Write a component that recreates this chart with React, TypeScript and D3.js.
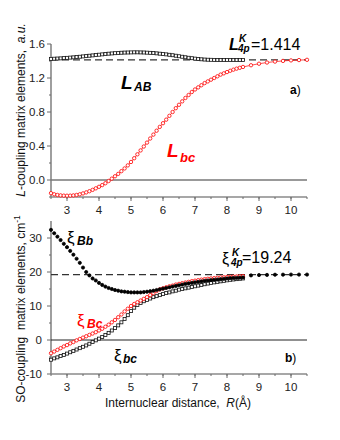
import React from "react";
import * as d3 from "d3";

// internuclear distance grid (Å) of the dense part of every curve
const rDense = [
  2.5, 2.6, 2.7, 2.8, 2.9, 3.0, 3.1, 3.2, 3.3, 3.4, 3.5, 3.6, 3.7, 3.8, 3.9, 4.0,
  4.1, 4.2, 4.3, 4.4, 4.5, 4.6, 4.7, 4.8, 4.9, 5.0, 5.1, 5.2, 5.3, 5.4, 5.5, 5.6,
  5.7, 5.8, 5.9, 6.0, 6.1, 6.2, 6.3, 6.4, 6.5, 6.6, 6.7, 6.8, 6.9, 7.0, 7.1, 7.2,
  7.3, 7.4, 7.5, 7.6, 7.7, 7.8, 7.9, 8.0, 8.1, 8.2, 8.3, 8.4, 8.5,
];
// sparse points toward the atomic limit
const rSparse = [8.75, 9.0, 9.25, 9.5, 9.75, 10.0, 10.25, 10.5];

// panel a) L-coupling, a.u.
const lAB = [
  1.425, 1.427, 1.429, 1.431, 1.434, 1.437, 1.44, 1.443, 1.447, 1.45, 1.454, 1.458,
  1.462, 1.466, 1.47, 1.474, 1.478, 1.482, 1.486, 1.489, 1.492, 1.495, 1.497, 1.499,
  1.5, 1.501, 1.502, 1.502, 1.501, 1.5, 1.498, 1.496, 1.493, 1.49, 1.486, 1.482,
  1.478, 1.473, 1.468, 1.462, 1.456, 1.45, 1.444, 1.438, 1.433, 1.428, 1.424, 1.42,
  1.417, 1.415, 1.414, 1.413, 1.412, 1.412, 1.412, 1.412, 1.412, 1.412, 1.412, 1.412,
  1.412,
];
const lBc = [
  -0.155, -0.168, -0.176, -0.181, -0.184, -0.185, -0.184, -0.181, -0.176, -0.168,
  -0.158, -0.146, -0.132, -0.116, -0.098, -0.08, -0.06, -0.038, -0.012, 0.016, 0.044,
  0.072, 0.104, 0.136, 0.172, 0.212, 0.256, 0.302, 0.348, 0.394, 0.44, 0.488, 0.534,
  0.58, 0.625, 0.668, 0.71, 0.755, 0.8, 0.845, 0.885, 0.925, 0.965, 1.0, 1.035, 1.065,
  1.09, 1.115, 1.14, 1.16, 1.18, 1.2, 1.22, 1.24, 1.255, 1.27, 1.285, 1.298, 1.31,
  1.32, 1.33,
];
const lBcSparse = [1.35, 1.368, 1.382, 1.393, 1.401, 1.407, 1.411, 1.414];
const lLimit = 1.414;

// panel b) SO-coupling, cm-1
const xiBb = [
  32.4, 31.4, 30.4, 29.4, 28.3, 27.3, 26.2, 25.1, 23.9, 22.7, 21.3, 20.0, 19.0, 18.1,
  17.5, 16.8, 16.2, 15.7, 15.3, 15.0, 14.7, 14.5, 14.3, 14.2, 14.1, 14.0, 14.0, 14.0,
  14.0, 14.1, 14.2, 14.35, 14.5, 14.7, 14.9, 15.1, 15.3, 15.5, 15.7, 15.9, 16.1, 16.3,
  16.5, 16.65, 16.8, 16.95, 17.1, 17.25, 17.4, 17.5, 17.6, 17.7, 17.8, 17.9, 18.0,
  18.1, 18.2, 18.25, 18.3, 18.35, 18.4,
];
const xiBbSparse = [19.0, 19.1, 19.15, 19.2, 19.22, 19.24, 19.24, 19.24];
const xiBc = [
  -3.9, -3.4, -2.9, -2.4, -1.9, -1.5, -1.0, -0.6, -0.1, 0.3, 0.7, 1.1, 1.5, 1.9, 2.3,
  2.8, 3.3, 3.9, 4.5, 5.2, 5.9, 6.7, 7.5, 8.4, 9.2, 10.0, 10.6, 11.1, 11.6, 12.1, 12.6,
  13.2, 13.8, 14.4, 14.9, 15.2, 15.5, 15.8, 16.0, 16.3, 16.5, 16.7, 16.9, 17.1, 17.3,
  17.45, 17.6, 17.75, 17.9, 18.0, 18.1, 18.2, 18.3, 18.4, 18.45, 18.55, 18.6, 18.65,
  18.7, 18.75, 18.8,
];
const xiBcLower = [
  -5.8, -5.4, -5.1, -4.7, -4.4, -4.0, -3.6, -3.2, -2.8, -2.4, -2.0, -1.6, -1.1, -0.6,
  -0.1, 0.4, 0.9, 1.5, 2.1, 2.8, 3.5, 4.3, 5.2, 6.2, 7.3, 8.5, 9.5, 10.3, 10.9, 11.4,
  11.8, 12.2, 12.6, 12.9, 13.2, 13.5, 13.8, 14.0, 14.3, 14.5, 14.8, 15.0, 15.2, 15.4,
  15.6, 15.8, 16.0, 16.2, 16.4, 16.6, 16.8, 16.95, 17.1, 17.25, 17.4, 17.55, 17.7,
  17.8, 17.9, 18.0, 18.1,
];
const xiLimit = 19.24;

const xTicks = [3, 4, 5, 6, 7, 8, 9, 10];
const yTicksA = [0.0, 0.4, 0.8, 1.2, 1.6];
const yTicksB = [-10, 0, 10, 20, 30];

const FONT = "Arial, 'Liberation Sans', sans-serif";
const RED = "#ff0000";
const AXIS = "#6b6b6b";

const x = d3.scaleLinear().domain([2.5, 10.5]).range([51, 307]);
const yA = d3.scaleLinear().domain([-0.2, 1.6]).range([197, 44]);
const yB = d3.scaleLinear().domain([-10, 35]).range([374, 221]);

const zip = (xs: number[], ys: number[]) => xs.map((r, i) => [r, ys[i]] as [number, number]);

function Squares({ pts, y, color }: { pts: [number, number][]; y: any; color: string }) {
  return (
    <g fill="white" stroke={color} strokeWidth={0.8}>
      {pts.map(([r, v], i) => (
        <rect key={i} x={x(r) - 1.5} y={y(v) - 1.5} width={3} height={3} />
      ))}
    </g>
  );
}

function Circles({ pts, y, color, filled }: { pts: [number, number][]; y: any; color: string; filled?: boolean }) {
  return (
    <g fill={filled ? color : "white"} stroke={color} strokeWidth={0.8}>
      {pts.map(([r, v], i) => (
        <circle key={i} cx={x(r)} cy={y(v)} r={filled ? 1.6 : 1.7} />
      ))}
    </g>
  );
}

function Frame({ y, ticks, minor, bottom, top, labelY, labelX, fmt }: any) {
  const minorX = d3.range(2.5, 10.51, 0.5);
  return (
    <g fontFamily={FONT} fontSize={11.5} fill="#222">
      {/* left axis */}
      <line x1={51} x2={51} y1={top} y2={bottom} stroke={AXIS} strokeWidth={1.3} />
      {ticks.map((t: number) => (
        <g key={"y" + t}>
          <line x1={47} x2={51} y1={y(t)} y2={y(t)} stroke={AXIS} strokeWidth={1} />
          <text x={labelX} y={y(t) + 4} textAnchor="end">{fmt(t)}</text>
        </g>
      ))}
      {minor.map((t: number) => (
        <line key={"m" + t} x1={49} x2={51} y1={y(t)} y2={y(t)} stroke={AXIS} strokeWidth={1} />
      ))}
      {/* bottom axis */}
      <line x1={51} x2={307} y1={bottom} y2={bottom} stroke="#8a8a8a" strokeWidth={1.6} />
      {minorX.map((t: number) => (
        <line key={"xm" + t} x1={x(t)} x2={x(t)} y1={bottom} y2={bottom + 2} stroke={AXIS} strokeWidth={1} />
      ))}
      {xTicks.map((t) => (
        <g key={"x" + t}>
          <line x1={x(t)} x2={x(t)} y1={bottom} y2={bottom + 4} stroke={AXIS} strokeWidth={1} />
          <text x={x(t)} y={labelY} textAnchor="middle">{t}</text>
        </g>
      ))}
    </g>
  );
}

export default function App() {
  const lineA = d3.line<[number, number]>().x((d) => x(d[0])).y((d) => yA(d[1]));
  const lineB = d3.line<[number, number]>().x((d) => x(d[0])).y((d) => yB(d[1]));

  const pAB = zip(rDense, lAB);
  const pBc = zip(rDense, lBc).concat(zip(rSparse, lBcSparse));
  const pBb = zip(rDense, xiBb);
  const pBbS = zip(rSparse, xiBbSparse);
  const pXBc = zip(rDense, xiBc);
  const pXbc = zip(rDense, xiBcLower);

  return (
    <svg width={340} height={440} style={{ display: "block", position: "absolute", left: 0, top: 0 }}>
      <rect width={340} height={440} fill="white" />

      {/* ---------- panel a ---------- */}
      <Frame y={yA} ticks={yTicksA} minor={[-0.2, 0.2, 0.6, 1.0, 1.4]} top={44} bottom={197}
        labelY={214} labelX={45} fmt={(t: number) => t.toFixed(1)} />
      <line x1={51} x2={307} y1={yA(0)} y2={yA(0)} stroke="#777" strokeWidth={1.4} />
      <line x1={51} x2={307} y1={yA(lLimit)} y2={yA(lLimit)} stroke="#333" strokeWidth={1.3} strokeDasharray="7,4" />
      <path d={lineA(pBc) || ""} fill="none" stroke={RED} strokeWidth={0.7} />
      <Circles pts={pBc} y={yA} color={RED} />
      <path d={lineA(pAB) || ""} fill="none" stroke="#111" strokeWidth={0.7} />
      <Squares pts={pAB} y={yA} color="#111" />

      <g fontFamily={FONT} fontStyle="italic" fontWeight="bold">
        <text x={121} y={89} fontSize={19} fill="#000">L</text>
        <text x={134} y={91} fontSize={12} fill="#000">AB</text>
        <text x={167} y={157} fontSize={19} fill={RED}>L</text>
        <text x={180} y={162} fontSize={13} fill={RED}>bc</text>
        <text x={229} y={50} fontSize={16} fill="#000">L</text>
        <text x={239} y={42} fontSize={10} fill="#000">K</text>
        <text x={238} y={52} fontSize={10} fill="#000">4p</text>
      </g>
      <text x={251} y={50} fontFamily={FONT} fontSize={16} fill="#000">=1.414</text>
      <text x={290} y={94} fontFamily={FONT} fontSize={12} fill="#000">
        <tspan fontWeight="bold">a</tspan>)
      </text>
      <text transform="translate(25,110) rotate(-90)" textAnchor="middle" fontFamily={FONT} fontSize={12} fill="#111"
        style={{ whiteSpace: "pre" }}>
        <tspan fontStyle="italic">L</tspan>-coupling matrix elements,  <tspan fontStyle="italic">a.u.</tspan>
      </text>

      {/* ---------- panel b ---------- */}
      <Frame y={yB} ticks={yTicksB} minor={[-5, 5, 15, 25]} top={221} bottom={374}
        labelY={391} labelX={42} fmt={(t: number) => String(t)} />
      <line x1={51} x2={307} y1={yB(0)} y2={yB(0)} stroke="#222" strokeWidth={1} />
      <line x1={51} x2={307} y1={yB(xiLimit)} y2={yB(xiLimit)} stroke="#333" strokeWidth={1.3} strokeDasharray="7,4" />
      <path d={lineB(pXbc) || ""} fill="none" stroke="#111" strokeWidth={0.7} />
      <Squares pts={pXbc} y={yB} color="#111" />
      <path d={lineB(pXBc) || ""} fill="none" stroke={RED} strokeWidth={0.7} />
      <Circles pts={pXBc} y={yB} color={RED} />
      <Circles pts={pBb} y={yB} color="#000" filled />
      <Circles pts={pBbS} y={yB} color="#000" filled />

      <g fontFamily={FONT}>
        <text x={67} y={243} fontSize={17} fill="#000">ξ</text>
        <text x={77} y={245} fontSize={12} fontWeight="bold" fontStyle="italic" fill="#000">Bb</text>
        <text x={77} y={326} fontSize={17} fill={RED}>ξ</text>
        <text x={87} y={328} fontSize={12} fontWeight="bold" fontStyle="italic" fill={RED}>Bc</text>
        <text x={114} y={361} fontSize={17} fill="#000">ξ</text>
        <text x={123} y={363} fontSize={12} fontWeight="bold" fontStyle="italic" fill="#000">bc</text>
        <text x={222} y={264} fontSize={16} fill="#000">ξ</text>
        <text x={232} y={256} fontSize={10} fontWeight="bold" fontStyle="italic" fill="#000">K</text>
        <text x={231} y={266} fontSize={10} fontWeight="bold" fontStyle="italic" fill="#000">4p</text>
        <text x={242} y={263} fontSize={16} fill="#000">=19.24</text>
        <text x={285} y={362} fontSize={12} fill="#000">
          <tspan fontWeight="bold">b</tspan>)
        </text>
      </g>
      <text transform="translate(25,309) rotate(-90)" textAnchor="middle" fontFamily={FONT} fontSize={12} fill="#111"
        style={{ whiteSpace: "pre" }}>
        SO-coupling  matrix elements, cm<tspan fontSize={8.5} dy={-5}>-1</tspan>
      </text>
      <text x={178} y={407} textAnchor="middle" fontFamily={FONT} fontSize={12} fill="#111"
        style={{ whiteSpace: "pre" }}>
        Internuclear distance,  <tspan fontStyle="italic">R</tspan>(Å)
      </text>
    </svg>
  );
}
